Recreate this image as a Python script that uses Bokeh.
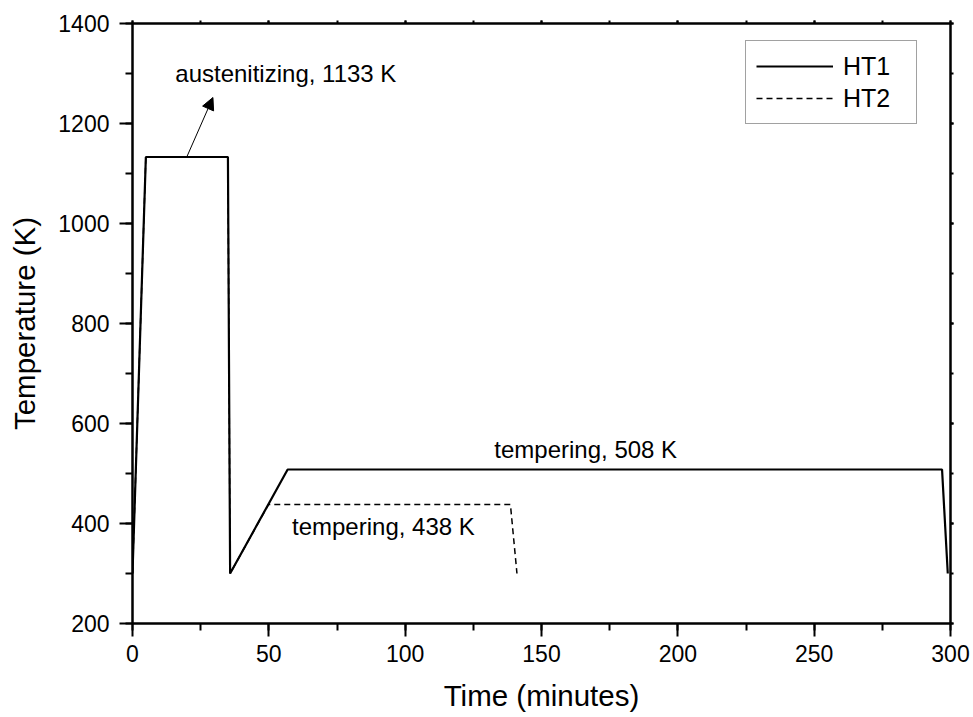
from bokeh.plotting import figure
from bokeh.models import (Range1d, LinearAxis, SingleIntervalTicker, Legend, LegendItem,
                          Arrow, NormalHead, ColumnDataSource, CustomJSTickFormatter)
from bokeh.core.properties import value
from bokeh.embed import file_html
from bokeh.resources import INLINE

# ---- data ----
ht1_time = [0, 4.9, 35.0, 35.8, 56.9, 296.9, 299.0]
ht1_temp = [300, 1133, 1133, 300, 508, 508, 300]
ht2_time = [0, 4.9, 35.0, 35.8, 49.9, 138.6, 141.0]
ht2_temp = [300, 1133, 1133, 300, 438, 438, 300]
series_names = ["HT1", "HT2"]

note_text = ["austenitizing, 1133 K", "tempering, 508 K", "tempering, 438 K"]
note_time = [15.7, 132.7, 58.5]
note_temp = [1284, 533, 378]

arrow_from = (19.9, 1133)
arrow_to = (29.5, 1252)

FONT = "Liberation Sans"

p = figure(width=973, height=717, output_backend="svg", toolbar_location=None,
           x_range=Range1d(0, 300), y_range=Range1d(200, 1400),
           min_border_left=132, min_border_right=23, min_border_top=23, min_border_bottom=94)
p.grid.visible = False
p.outline_line_color = "black"
p.outline_line_width = 2
p.background_fill_color = "white"
p.border_fill_color = "white"

p.xaxis.ticker = SingleIntervalTicker(interval=50, num_minor_ticks=2)
p.yaxis.ticker = SingleIntervalTicker(interval=200, num_minor_ticks=2)
for ax in (p.xaxis[0], p.yaxis[0]):
    ax.axis_line_width = 2
    ax.major_tick_line_width = 2
    ax.minor_tick_line_width = 2
    ax.major_tick_in = 0
    ax.major_tick_out = 13
    ax.minor_tick_in = 0
    ax.minor_tick_out = 7
    ax.major_label_text_font = FONT
    ax.major_label_text_font_size = "23px"
    ax.major_label_text_color = "black"
    ax.axis_label_text_font = FONT
    ax.axis_label_text_font_size = "29.5px"
    ax.axis_label_text_font_style = "normal"
    ax.axis_label_text_color = "black"
p.xaxis.major_label_standoff = 8
p.yaxis.major_label_standoff = 10
p.xaxis.axis_label = "Time (minutes)"
p.yaxis.axis_label = "Temperature (K)"
p.xaxis.axis_label_standoff = 14
p.yaxis.axis_label_standoff = 14

empty = CustomJSTickFormatter(code="return ''")
top_ax = LinearAxis(ticker=SingleIntervalTicker(interval=50, num_minor_ticks=2), formatter=empty)
right_ax = LinearAxis(ticker=SingleIntervalTicker(interval=200, num_minor_ticks=2), formatter=empty)
for ax in (top_ax, right_ax):
    ax.axis_line_width = 2
    ax.major_tick_line_width = 2
    ax.minor_tick_line_width = 2
    ax.major_tick_in = 0
    ax.major_tick_out = 3
    ax.minor_tick_in = 0
    ax.minor_tick_out = 3
    ax.major_label_standoff = 0
p.add_layout(top_ax, "above")
p.add_layout(right_ax, "right")

r2 = p.line(ht2_time, ht2_temp, line_color="black", line_width=1.5, line_dash="6 4")
r1 = p.line(ht1_time, ht1_temp, line_color="black", line_width=2.2)

src = ColumnDataSource(dict(x=note_time, y=note_temp, t=note_text))
p.text(x="x", y="y", text="t", source=src, text_font=value(FONT), text_font_size="24px",
       text_color="black", text_align="left", text_baseline="alphabetic", y_offset=-8)

p.add_layout(Arrow(end=NormalHead(size=12, fill_color="black", line_color="black", line_width=1),
                   x_start=arrow_from[0], y_start=arrow_from[1],
                   x_end=arrow_to[0], y_end=arrow_to[1],
                   line_color="black", line_width=1))

legend = Legend(items=[LegendItem(label=series_names[0], renderers=[r1]),
                       LegendItem(label=series_names[1], renderers=[r2])],
                location=(613, 499))
legend.label_text_font = FONT
legend.label_text_font_size = "25px"
legend.label_text_color = "black"
legend.glyph_width = 77
legend.glyph_height = 30
legend.label_height = 30
legend.label_width = 63
legend.label_standoff = 10
legend.spacing = 2
legend.padding = 10
legend.margin = 0
legend.border_line_color = "#444444"
legend.border_line_width = 1
legend.background_fill_alpha = 1
p.add_layout(legend)

open("out.html", "w").write(file_html(p, INLINE))
